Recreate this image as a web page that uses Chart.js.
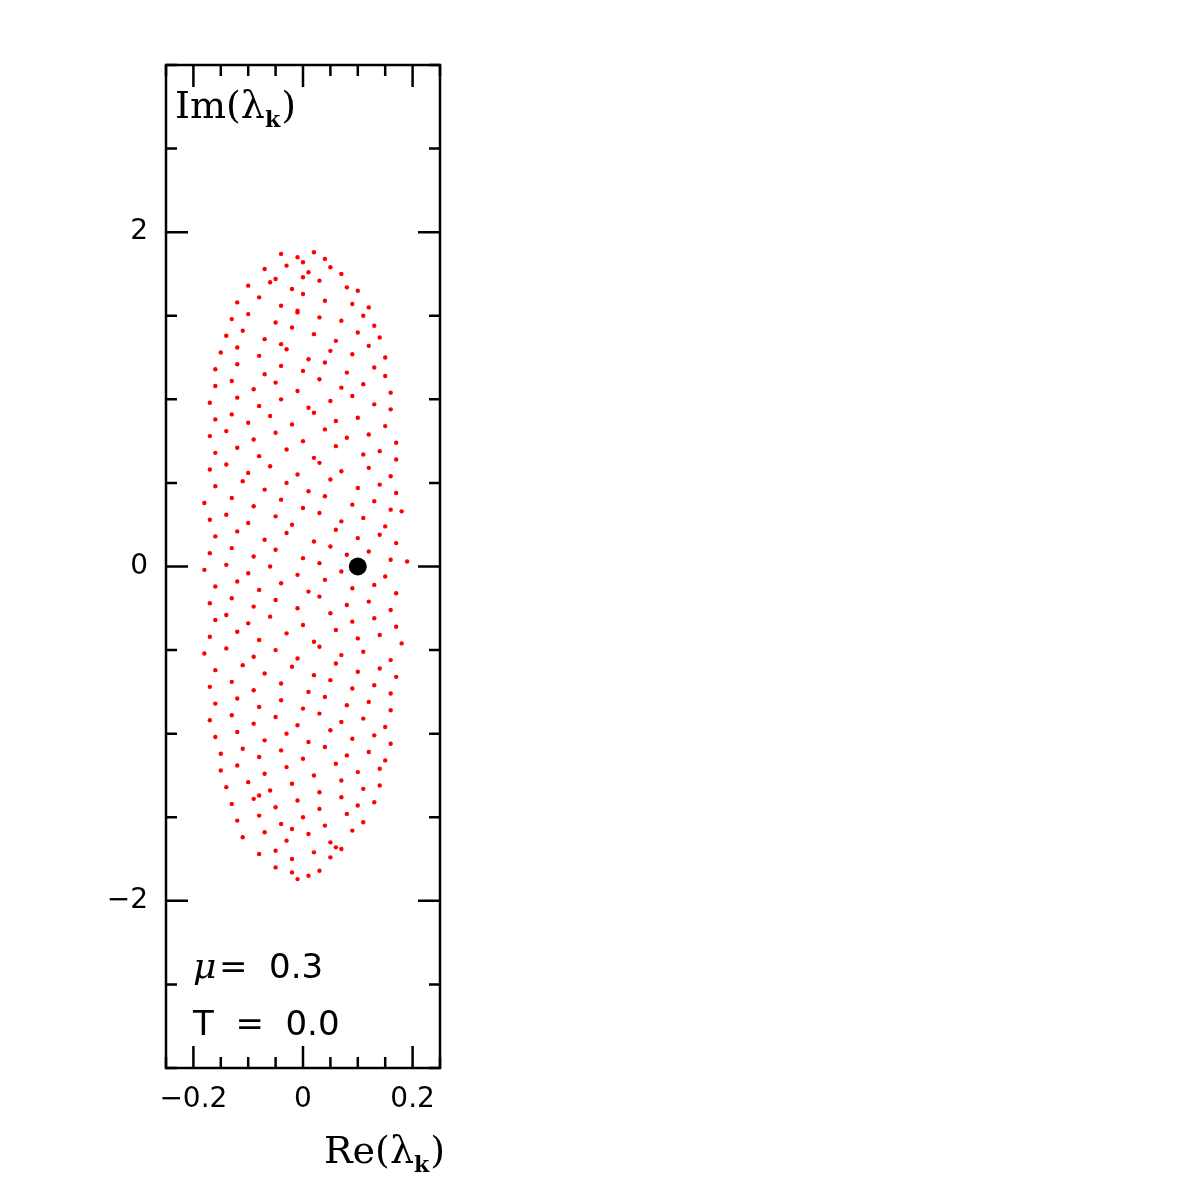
<!DOCTYPE html>
<html><head><meta charset="utf-8">
<script src="https://cdn.jsdelivr.net/npm/chart.js@4"></script>
<style>html,body{margin:0;padding:0;background:#fff}#w{width:1196px;height:1196px}</style>
</head><body><div id="w"><canvas id="c"></canvas></div>
<script>
// Eigenvalue cloud (Re, Im), row by row
const eigRe = [
-0.04,-0.01,0.02,0.04,0.00,
-0.07,-0.03,0.01,0.05,0.07,-0.05,
-0.10,-0.06,-0.02,0.03,0.08,0.10,0.00,
-0.12,-0.08,-0.04,0.00,0.04,0.09,0.12,-0.01,
-0.13,-0.10,-0.05,-0.01,0.03,0.07,0.11,0.13,
-0.14,-0.11,-0.07,-0.02,0.02,0.06,0.10,0.14,-0.04,
-0.15,-0.12,-0.08,-0.03,0.01,0.05,0.09,0.12,0.15,
-0.16,-0.12,-0.07,-0.04,0.00,0.04,0.08,0.13,0.15,
-0.16,-0.13,-0.09,-0.05,-0.01,0.03,0.07,0.11,0.16,
-0.17,-0.12,-0.08,-0.04,0.01,0.05,0.09,0.13,0.16,
-0.16,-0.13,-0.10,-0.06,-0.02,0.02,0.06,0.10,0.15,
-0.17,-0.14,-0.09,-0.05,0.00,0.04,0.08,0.12,0.17,
-0.16,-0.12,-0.08,-0.03,0.02,0.06,0.11,0.14,0.17,
-0.17,-0.14,-0.10,-0.06,-0.01,0.03,0.07,0.12,0.16,
-0.16,-0.11,-0.07,-0.03,0.01,0.05,0.10,0.14,0.17,
-0.18,-0.13,-0.09,-0.04,0.00,0.04,0.09,0.13,0.16,
-0.17,-0.14,-0.10,-0.05,-0.02,0.03,0.07,0.11,0.15,0.18,
-0.16,-0.12,-0.07,-0.03,0.02,0.06,0.10,0.14,0.17,
-0.17,-0.13,-0.09,-0.05,0.00,0.05,0.08,0.12,0.16,
-0.18,-0.14,-0.10,-0.06,-0.01,0.03,0.07,0.11,0.15,0.19,
-0.16,-0.12,-0.08,-0.04,0.01,0.04,0.09,0.13,0.17,
-0.17,-0.13,-0.09,-0.05,-0.01,0.03,0.08,0.12,0.16,
-0.16,-0.14,-0.10,-0.06,0.00,0.05,0.09,0.13,0.17,
-0.17,-0.12,-0.08,-0.03,0.02,0.06,0.10,0.14,0.18,
-0.18,-0.14,-0.09,-0.05,-0.01,0.03,0.07,0.11,0.16,
-0.16,-0.11,-0.07,-0.02,0.02,0.06,0.10,0.14,0.17,
-0.17,-0.13,-0.09,-0.04,0.01,0.05,0.09,0.13,0.16,
-0.16,-0.12,-0.08,-0.04,0.00,0.04,0.08,0.12,0.16,
-0.17,-0.13,-0.09,-0.05,-0.01,0.03,0.07,0.11,0.15,
-0.16,-0.12,-0.07,-0.03,0.01,0.05,0.09,0.13,0.16,
-0.15,-0.11,-0.08,-0.04,0.00,0.04,0.08,0.12,0.15,
-0.15,-0.12,-0.07,-0.03,0.02,0.06,0.10,0.14,
-0.14,-0.10,-0.06,-0.02,0.03,0.07,0.11,0.14,-0.08,
-0.13,-0.09,-0.05,-0.01,0.03,0.07,0.10,0.13,
-0.12,-0.08,-0.04,0.00,0.04,0.08,0.11,-0.02,
-0.11,-0.07,-0.03,0.01,0.05,0.09,0.06,
-0.08,-0.05,-0.02,0.02,0.05,0.07,
-0.05,-0.02,0.01,0.03,-0.01
];
const eigIm = [
1.87,1.85,1.88,1.84,1.82,
1.78,1.80,1.76,1.79,1.75,1.72,
1.68,1.70,1.66,1.71,1.67,1.65,1.73,
1.58,1.61,1.56,1.63,1.59,1.57,1.55,1.52,
1.48,1.51,1.46,1.53,1.49,1.47,1.50,1.44,
1.38,1.41,1.36,1.43,1.39,1.35,1.40,1.37,1.33,
1.28,1.31,1.26,1.30,1.24,1.29,1.27,1.32,1.25,
1.18,1.21,1.15,1.20,1.17,1.22,1.16,1.19,1.14,
1.08,1.11,1.06,1.10,1.05,1.12,1.07,1.09,1.04,
0.98,1.01,0.96,1.00,0.95,0.99,1.02,0.97,0.94,
0.88,0.91,0.86,0.90,0.85,0.92,0.87,0.89,0.84,
0.78,0.81,0.76,0.80,0.75,0.82,0.77,0.79,0.74,
0.68,0.71,0.66,0.70,0.65,0.72,0.67,0.69,0.64,
0.58,0.61,0.56,0.60,0.55,0.62,0.57,0.59,0.54,
0.48,0.51,0.46,0.50,0.45,0.52,0.47,0.49,0.44,
0.38,0.41,0.36,0.40,0.35,0.42,0.37,0.39,0.34,
0.28,0.31,0.26,0.30,0.25,0.32,0.27,0.29,0.24,0.33,
0.18,0.21,0.16,0.20,0.15,0.22,0.17,0.19,0.14,
0.08,0.11,0.06,0.10,0.05,0.12,0.07,0.09,0.04,
-0.02,0.01,-0.04,0.00,-0.05,0.02,-0.03,-0.01,-0.06,0.03,
-0.12,-0.09,-0.14,-0.10,-0.15,-0.08,-0.13,-0.11,-0.16,
-0.22,-0.19,-0.24,-0.20,-0.25,-0.18,-0.23,-0.21,-0.26,
-0.32,-0.29,-0.34,-0.30,-0.35,-0.28,-0.33,-0.31,-0.36,
-0.42,-0.39,-0.44,-0.40,-0.45,-0.38,-0.43,-0.41,-0.46,
-0.52,-0.49,-0.54,-0.50,-0.55,-0.48,-0.53,-0.51,-0.56,
-0.62,-0.59,-0.64,-0.60,-0.65,-0.58,-0.63,-0.61,-0.66,
-0.72,-0.69,-0.74,-0.70,-0.75,-0.68,-0.73,-0.71,-0.76,
-0.82,-0.79,-0.84,-0.80,-0.85,-0.78,-0.83,-0.81,-0.86,
-0.92,-0.89,-0.94,-0.90,-0.95,-0.88,-0.93,-0.91,-0.96,
-1.02,-0.99,-1.04,-1.00,-1.05,-0.98,-1.03,-1.01,-1.06,
-1.12,-1.09,-1.14,-1.10,-1.15,-1.08,-1.13,-1.11,-1.16,
-1.22,-1.19,-1.24,-1.20,-1.25,-1.18,-1.23,-1.21,
-1.32,-1.29,-1.34,-1.30,-1.35,-1.28,-1.33,-1.31,-1.37,
-1.42,-1.39,-1.44,-1.40,-1.45,-1.38,-1.43,-1.41,
-1.52,-1.49,-1.54,-1.50,-1.55,-1.48,-1.53,-1.57,
-1.62,-1.59,-1.64,-1.60,-1.65,-1.58,-1.68,
-1.72,-1.70,-1.75,-1.71,-1.74,-1.69,
-1.80,-1.83,-1.85,-1.82,-1.87
];
const markerRe = [0.1];
const markerIm = [0.0];
const xTickLabels = [-0.2, 0, 0.2];
const yTickLabels = [-2, 0, 2];
const xTitle = 'Re(λ';
const yTitle = 'Im(λ';
const noteMu = '=  0.3';
const noteT = 'T = 0.0';

const pts = eigRe.map((x,i)=>({x, y: eigIm[i]})).filter(p=>p.y!==undefined);
const mk = markerRe.map((x,i)=>({x, y: markerIm[i]}));

const deco = {
  id:'deco',
  afterDraw(ch){
    const c = ch.ctx, xs = ch.scales.x, ys = ch.scales.y, a = ch.chartArea;
    c.save();
    c.strokeStyle='#000'; c.lineWidth=2.5;
    c.strokeRect(a.left,a.top,a.right-a.left,a.bottom-a.top);
    c.beginPath();
    for(let i=-5; i<=5; i++){
      const px = xs.getPixelForValue(i*0.05);
      const L = (i%4===0)?22:11;
      c.moveTo(px,a.bottom); c.lineTo(px,a.bottom-L);
      c.moveTo(px,a.top); c.lineTo(px,a.top+L);
    }
    for(let i=-6; i<=6; i++){
      const py = ys.getPixelForValue(i*0.5);
      const L = (i%4===0)?22:11;
      c.moveTo(a.left,py); c.lineTo(a.left+L,py);
      c.moveTo(a.right,py); c.lineTo(a.right-L,py);
    }
    c.stroke();
    c.fillStyle='#000';
    c.font='28px "DejaVu Sans"'; c.textAlign='center'; c.textBaseline='top';
    xTickLabels.forEach(v=>{ c.fillText(v===0?'0':(v<0?'−'+Math.abs(v):''+v), xs.getPixelForValue(v), a.bottom+18); });
    c.textAlign='right'; c.textBaseline='middle';
    yTickLabels.forEach(v=>{ c.fillText(v===0?'0':(v<0?'−'+Math.abs(v):''+v), a.left-18, ys.getPixelForValue(v)); });
    c.textAlign='left'; c.textBaseline='alphabetic';
    function title(t,x,y){
      c.font='38px "DejaVu Serif"'; c.fillText(t,x,y); let w=c.measureText(t).width;
      c.font='bold 22px "DejaVu Serif"'; c.fillText('k',x+w,y+9); w+=c.measureText('k').width+1;
      c.font='38px "DejaVu Serif"'; c.fillText(')',x+w,y);
    }
    title(yTitle, a.left+9, a.top+53);
    title(xTitle, 324, 1163);
    c.font='italic 36px "DejaVu Serif"'; c.fillText('μ', 193, 978);
    c.font='34px "DejaVu Sans"'; c.fillText(noteMu, 219, 978);
    c.fillText('T  =  0.0', 193, 1035);
    c.restore();
  }
};

new Chart(document.getElementById('c'), {
  type:'scatter',
  data:{datasets:[
    {data:mk, pointRadius:9, pointBackgroundColor:'#000', pointBorderWidth:0},
    {data:pts, pointRadius:2.2, pointBackgroundColor:'#ff0000', pointBorderWidth:0}
  ]},
  options:{
    responsive:true, maintainAspectRatio:false, animation:false,
    layout:{padding:{left:166,top:65,right:756,bottom:128}},
    plugins:{legend:{display:false},tooltip:{enabled:false}},
    scales:{
      x:{min:-0.25,max:0.25,display:false},
      y:{min:-3,max:3,display:false}
    }
  },
  plugins:[deco]
});
</script></body></html>
